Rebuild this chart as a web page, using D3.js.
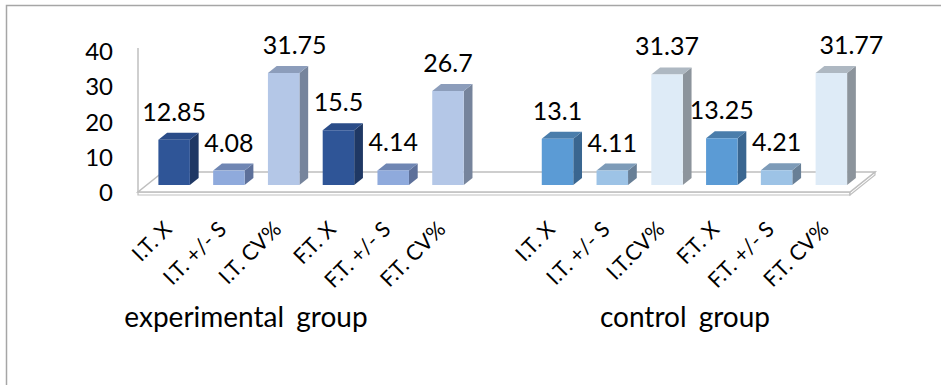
<!DOCTYPE html>
<html>
<head>
<meta charset="utf-8">
<script src="https://cdn.jsdelivr.net/npm/d3@7"></script>
<style>
  html, body { margin: 0; padding: 0; background: #fff; }
  svg { display: block; }
  text { font-family: Lato, "Open Sans", sans-serif; fill: #000; }
</style>
</head>
<body>
<svg id="chart" width="941" height="385"></svg>
<script>
// ---------- data ----------
const groupNames = ["experimental group", "control group"];
const expCategories = ["I.T. X", "I.T. +/- S", "I.T. CV%", "F.T. X", "F.T. +/- S", "F.T. CV%"];
const ctrlCategories = ["I.T. X", "I.T. +/- S", "I.T.CV%", "F.T. X", "F.T. +/- S", "F.T. CV%"];
const expValues = [12.85, 4.08, 31.75, 15.5, 4.14, 26.7];
const ctrlValues = [13.1, 4.11, 31.37, 13.25, 4.21, 31.77];
const yTicks = [0, 10, 20, 30, 40];

// ---------- layout / styles ----------
// per group: [X, S, CV] -> {front, top, side}
const palette = [
  [
    { front: "#2F5597", top: "#2A4C88", side: "#1F3864" },
    { front: "#8FAADC", top: "#6F86B3", side: "#5D709A" },
    { front: "#B4C7E7", top: "#8C9DBB", side: "#76849C" }
  ],
  [
    { front: "#5B9BD5", top: "#4A7DAB", side: "#3A6690" },
    { front: "#9DC3E6", top: "#7D9BB8", side: "#687F96" },
    { front: "#DEEBF7", top: "#AEB8C2", side: "#8C949C" }
  ]
];
// horizontal nudges of some value labels (as placed in the original)
const expLabelNudge = [0, 0, 11, 0, 0, 0];
const ctrlLabelNudge = [0, 0, 0, 0, 0, 20];
const groupLabelX = [246, 685];

const svg = d3.select("#chart");

// 3D geometry
const DX = 25, DY = 20;           // depth offset of the floor (z from 0 to 1)
const zFront = 0.35, zBack = 0.7; // bar depth range
const x0 = 138, x1 = 850;

const nSlots = expCategories.length + 1 + ctrlCategories.length;
const xs = d3.scaleBand().domain(d3.range(nSlots)).range([x0, x1])
  .paddingInner(0.425).paddingOuter(0.2125);
const ys = d3.scaleLinear().domain([0, 40]).range([192, 51]);

const proj = (x, v, z) => [x + z * DX, ys(v) - z * DY];
const pts = a => a.map(p => p.join(",")).join(" ");

// frame
svg.append("rect")
  .attr("x", 6.5).attr("y", 5.5).attr("width", 1200).attr("height", 1200)
  .attr("fill", "none").attr("stroke", "#a6a6a6").attr("stroke-width", 1.5);

// floor
const gFloor = svg.append("g");
const floorStroke = "#bfbfbf";
const th = 3;
const fl = proj(x0, 0, 0), fr = proj(x1, 0, 0), br = proj(x1, 0, 1), bl = proj(x0, 0, 1);
gFloor.append("polygon")
  .attr("points", pts([fl, fr, [fr[0], fr[1] + th], [fl[0], fl[1] + th]]))
  .attr("fill", "#fff").attr("stroke", floorStroke).attr("stroke-width", 1.2);
gFloor.append("polygon")
  .attr("points", pts([fr, br, [br[0], br[1] + th], [fr[0], fr[1] + th]]))
  .attr("fill", "#fff").attr("stroke", floorStroke).attr("stroke-width", 1.2);
gFloor.append("polygon")
  .attr("points", pts([fl, fr, br, bl]))
  .attr("fill", "#fff").attr("stroke", floorStroke).attr("stroke-width", 1.5);
gFloor.append("line")
  .attr("x1", x0).attr("x2", x0).attr("y1", ys(40) - 3).attr("y2", ys(0))
  .attr("stroke", floorStroke).attr("stroke-width", 1.5);

// y axis labels
const yAxis = d3.axisLeft(ys).tickValues(yTicks).tickSize(0).tickPadding(25);
const gY = svg.append("g").attr("transform", `translate(${x0},1)`).call(yAxis);
gY.select(".domain").remove();
gY.selectAll("text").attr("font-size", 24).attr("fill", "#000")
  .style("font-family", "Lato, 'Open Sans', sans-serif");

// bars
const bars = [];
expValues.forEach((v, i) => bars.push({ slot: i, v, g: 0, k: i % 3, cat: expCategories[i], nudge: expLabelNudge[i] }));
ctrlValues.forEach((v, i) => bars.push({ slot: expCategories.length + 1 + i, v, g: 1, k: i % 3, cat: ctrlCategories[i], nudge: ctrlLabelNudge[i] }));

const gBars = svg.append("g");
bars.forEach(b => {
  const xl = xs(b.slot), xr = xl + xs.bandwidth();
  const c = palette[b.g][b.k];
  gBars.append("polygon")
    .attr("points", pts([proj(xr, 0, zFront), proj(xr, b.v, zFront), proj(xr, b.v, zBack), proj(xr, 0, zBack)]))
    .attr("fill", c.side);
  gBars.append("polygon")
    .attr("points", pts([proj(xl, b.v, zFront), proj(xr, b.v, zFront), proj(xr, b.v, zBack), proj(xl, b.v, zBack)]))
    .attr("fill", c.top);
  gBars.append("polygon")
    .attr("points", pts([proj(xl, 0, zFront), proj(xr, 0, zFront), proj(xr, b.v, zFront), proj(xl, b.v, zFront)]))
    .attr("fill", c.front);
  const top = proj((xl + xr) / 2, b.v, zBack);
  gBars.append("text")
    .attr("x", (xl + xr) / 2 + zFront * DX + b.nudge)
    .attr("y", top[1] - 12)
    .attr("text-anchor", "middle")
    .attr("font-size", 25)
    .text(String(b.v));
});

// category labels
const gCat = svg.append("g");
bars.forEach(b => {
  const cx = xs(b.slot) + xs.bandwidth() / 2;
  gCat.append("text")
    .attr("transform", `translate(${cx + 2},${ys(0) + 33}) rotate(-45)`)
    .attr("text-anchor", "end")
    .attr("dominant-baseline", "central")
    .attr("font-size", 21.5)
    .text(b.cat);
});

// group labels
groupNames.forEach((n, i) => {
  svg.append("text")
    .attr("x", groupLabelX[i]).attr("y", 327)
    .attr("text-anchor", "middle")
    .attr("font-size", 28)
    .attr("word-spacing", 5)
    .text(n);
});
</script>
</body>
</html>
